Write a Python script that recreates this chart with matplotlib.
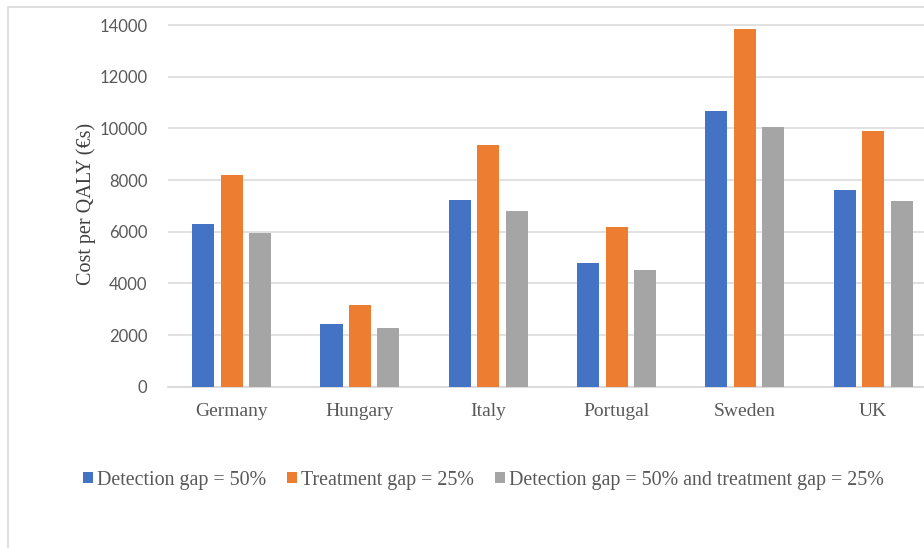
import matplotlib

matplotlib.use("Agg")

import matplotlib.pyplot as plt
import numpy as np
from matplotlib.patches import Rectangle

countries = ["Germany", "Hungary", "Italy", "Portugal", "Sweden", "UK"]
series_names = [
    "Detection gap = 50%",
    "Treatment gap = 25%",
    "Detection gap = 50% and treatment gap = 25%",
]
detection_gap = [6310, 2430, 7210, 4790, 10670, 7625]
treatment_gap = [8180, 3150, 9355, 6180, 13845, 9885]
both_gaps = [5940, 2285, 6790, 4505, 10050, 7175]
y_ticks = [0, 2000, 4000, 6000, 8000, 10000, 12000, 14000]

colors = ["#4472C4", "#ED7D31", "#A5A5A5"]
W, H = 924, 548

fig = plt.figure(figsize=(W / 100, H / 100), dpi=100)

# axes: x from 167.5px to 937px (cut on the right), y from 25px to 386.7px
left, right = 167.5, 937.3
top, bottom = 24.0, 386.7
ax = fig.add_axes([left / W, 1 - bottom / H, (right - left) / W, (bottom - top) / H])

x = np.arange(len(countries))
step = 0.222
width = 0.172
for k, (vals, name) in enumerate(zip([detection_gap, treatment_gap, both_gaps], series_names)):
    ax.bar(x + (k - 1) * step, vals, width=width, color=colors[k], label=name, zorder=3)

ax.set_xlim(-0.5, len(countries) - 0.5)
ax.set_ylim(0, 14000 * (bottom - top) / (bottom - 25.0))
ax.set_yticks(y_ticks)
ax.set_yticklabels([str(t) for t in y_ticks], fontfamily="Lato", fontsize=12, color="#595959")
ax.set_xticks(x)
ax.set_xticklabels(countries, fontfamily="Liberation Serif", fontsize=14, color="#595959")
ax.tick_params(axis="y", length=0, pad=14.5)
ax.tick_params(axis="x", length=0, pad=12)

ax.yaxis.grid(True, color="#D9D9D9", linewidth=1.1)
ax.set_axisbelow(True)
for side in ["top", "right", "left"]:
    ax.spines[side].set_visible(False)
ax.spines["bottom"].set_color("#D9D9D9")
ax.spines["bottom"].set_linewidth(1.3)

fig.text(86 / W, 1 - 204 / H, "Cost per QALY (€s)", rotation=90, ha="center", va="center",
         fontfamily="Liberation Serif", fontsize=14.5, color="#404040")

handles, labels = ax.get_legend_handles_labels()
leg = fig.legend(handles, labels, ncol=3, loc="center", bbox_to_anchor=(483 / W, 1 - 480 / H),
                 frameon=False, prop={"family": "Liberation Serif", "size": 14.4},
                 handlelength=0.5, handleheight=0.5, handletextpad=0.2, columnspacing=1.05,
                 borderpad=0, borderaxespad=0)
for text in leg.get_texts():
    text.set_color("#595959")

# chart frame, cut off at the right and bottom
fig.patches.append(Rectangle((8.3 / W, -0.1), 1.2, 1.1 - 7.3 / H, transform=fig.transFigure,
                             fill=False, edgecolor="#D9D9D9", linewidth=1.2))

fig.savefig("out.png", dpi=100)
plt.close(fig)
